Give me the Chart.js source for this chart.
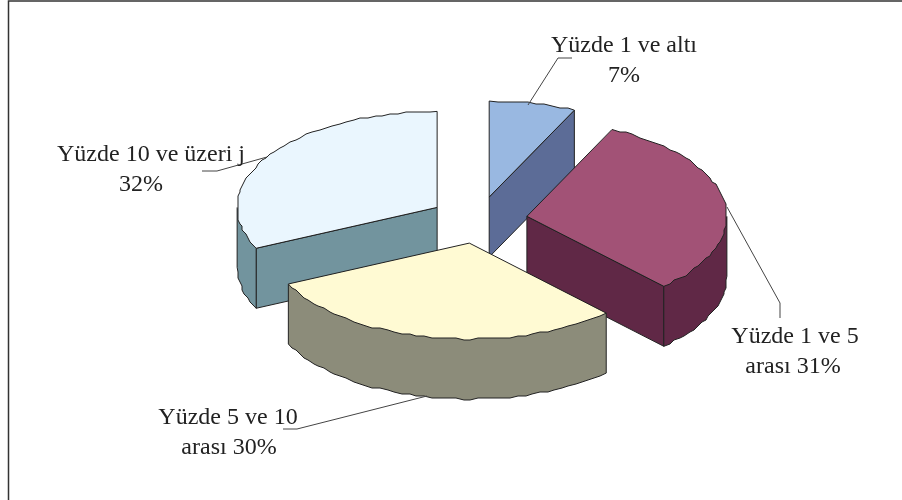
<!DOCTYPE html>
<html>
<head>
<meta charset="utf-8">
<style>
body { margin: 0; background: #fff; }
canvas { display: block; }
</style>
<script src="https://cdn.jsdelivr.net/npm/chart.js@4"></script>
</head>
<body>
<canvas id="pieChart" width="902" height="500"></canvas>
<script>
const categories = ["Yüzde 1 ve altı", "Yüzde 1 ve 5 arası", "Yüzde 5 ve 10 arası", "Yüzde 10 ve üzeri"];
const shares = [7, 31, 30, 32];
const topColors = ["#99b8e1", "#a25276", "#fffad3", "#eaf6fe"];
const wallColors = ["#5c6c97", "#602846", "#8c8c7a", "#72949e"];

// label text, one entry per line
const labelLines = [
    ["Yüzde 1 ve altı", "7%"],
    ["Yüzde 1 ve 5", "arası 31%"],
    ["Yüzde 5 ve 10", "arası 30%"],
    ["Yüzde 10 ve üzeri j", "32%"]
];
const labelSpots = [
    [[624, 52], [624, 82]],
    [[795, 343], [793, 373]],
    [[228, 424], [229, 454]],
    [[151, 161], [141, 191]]
];
const leaders = [
    [[528, 105], [558, 58], [572, 58]],
    [[727, 207], [780, 303], [780, 318]],
    [[427, 396], [297, 429], [283, 429]],
    [[267, 157], [217, 171], [202, 171]]
];

const squash = 0.48;    // tilt of the pie
const depth = 60;       // height of the walls
const explode = 49;     // how far slices move out
const edgeColor = "#222";

// the edge of the scan is stepped, not smooth
function edgePoints(cx, cy, r, from, to) {
    let pts = [];
    let n = Math.max(2, Math.ceil((to - from) / 0.04));
    for (let i = 0; i <= n; i++) {
        let a = from + (to - from) * i / n;
        let x = cx + r * Math.cos(a);
        let y = cy + r * squash * Math.sin(a);
        if (i > 0 && i < n) {
            x = Math.round(x / 2) * 2;
            y = Math.round(y / 2) * 2;
        }
        pts.push([x, y]);
    }
    return pts;
}

function traceFace(ctx, ax, ay, rim) {
    ctx.beginPath();
    ctx.moveTo(ax, ay);
    rim.forEach(p => ctx.lineTo(p[0], p[1]));
    ctx.closePath();
}

function drawWall(ctx, ax, ay, r, a, color) {
    let x = ax + r * Math.cos(a);
    let y = ay + r * squash * Math.sin(a);
    ctx.beginPath();
    ctx.moveTo(ax, ay);
    ctx.lineTo(x, y);
    ctx.lineTo(x, y + depth);
    ctx.lineTo(ax, ay + depth);
    ctx.closePath();
    ctx.fillStyle = color;
    ctx.fill();
    ctx.stroke();
}

const pie3d = {
    id: "pie3d",
    beforeDatasetDraw(chart) {
        const ctx = chart.ctx;
        const arcs = chart.getDatasetMeta(0).data;

        let slices = arcs.map((arc, i) => {
            let mid = (arc.startAngle + arc.endAngle) / 2;
            return {
                arc: arc,
                i: i,
                ax: arc.x + Math.cos(mid) * explode,
                ay: arc.y + Math.sin(mid) * explode * squash
            };
        });
        // back slices first
        slices.sort((p, q) => p.ay - q.ay);

        slices.forEach(s => {
            const arc = s.arc;
            const r = arc.outerRadius;
            const start = arc.startAngle;
            const end = arc.endAngle;

            ctx.save();
            ctx.strokeStyle = edgeColor;
            ctx.lineWidth = 1;

            if (Math.cos(start) < -1e-6) drawWall(ctx, s.ax, s.ay, r, start, wallColors[s.i]);
            if (Math.cos(end) > 1e-6) drawWall(ctx, s.ax, s.ay, r, end, wallColors[s.i]);

            // outer wall, front part only
            let from = Math.max(start, 0);
            let to = Math.min(end, Math.PI);
            if (to > from) {
                let low = edgePoints(s.ax, s.ay + depth, r, from, to);
                ctx.beginPath();
                ctx.moveTo(s.ax + r * Math.cos(from), s.ay + r * squash * Math.sin(from));
                low.forEach(p => ctx.lineTo(p[0], p[1]));
                ctx.lineTo(s.ax + r * Math.cos(to), s.ay + r * squash * Math.sin(to));
                ctx.fillStyle = wallColors[s.i];
                ctx.fill();
                ctx.stroke();
            }

            // top face, cut to the stepped edge
            let rim = edgePoints(s.ax, s.ay, r, start, end);
            traceFace(ctx, s.ax, s.ay, rim);

            ctx.save();
            ctx.clip();
            ctx.translate(s.ax, s.ay);
            ctx.scale(1.03, squash * 1.03);
            ctx.translate(-arc.x, -arc.y);
            arc.draw(ctx);
            ctx.restore();

            // arc.draw leaves its own path behind
            traceFace(ctx, s.ax, s.ay, rim);
            ctx.stroke();
            ctx.restore();
        });
        return false;
    },
    afterDraw(chart) {
        const ctx = chart.ctx;
        ctx.save();

        // frame, only top and left are in the picture
        ctx.strokeStyle = "#333";
        ctx.lineWidth = 1.5;
        ctx.beginPath();
        ctx.moveTo(8.5, 500);
        ctx.lineTo(8.5, 1);
        ctx.lineTo(902, 1);
        ctx.stroke();

        ctx.strokeStyle = "#444";
        ctx.lineWidth = 1;
        leaders.forEach(line => {
            ctx.beginPath();
            line.forEach((p, i) => i ? ctx.lineTo(p[0], p[1]) : ctx.moveTo(p[0], p[1]));
            ctx.stroke();
        });

        ctx.fillStyle = "#222";
        ctx.font = "24px 'Liberation Serif'";
        ctx.textAlign = "center";
        ctx.textBaseline = "alphabetic";
        labelLines.forEach((lines, i) => {
            lines.forEach((text, j) => {
                ctx.fillText(text, labelSpots[i][j][0], labelSpots[i][j][1]);
            });
        });
        ctx.restore();
    }
};

new Chart(
    document.getElementById("pieChart"),
    {
        type: "pie",
        data: {
            labels: categories,
            datasets: [{
                data: shares,
                backgroundColor: topColors,
                borderWidth: 0,
                radius: 200
            }]
        },
        options: {
            responsive: false,
            animation: false,
            layout: { padding: { left: 55, bottom: 60 } },
            plugins: {
                legend: { display: false },
                tooltip: { enabled: false }
            }
        },
        plugins: [pie3d]
    }
);
</script>
</body>
</html>
